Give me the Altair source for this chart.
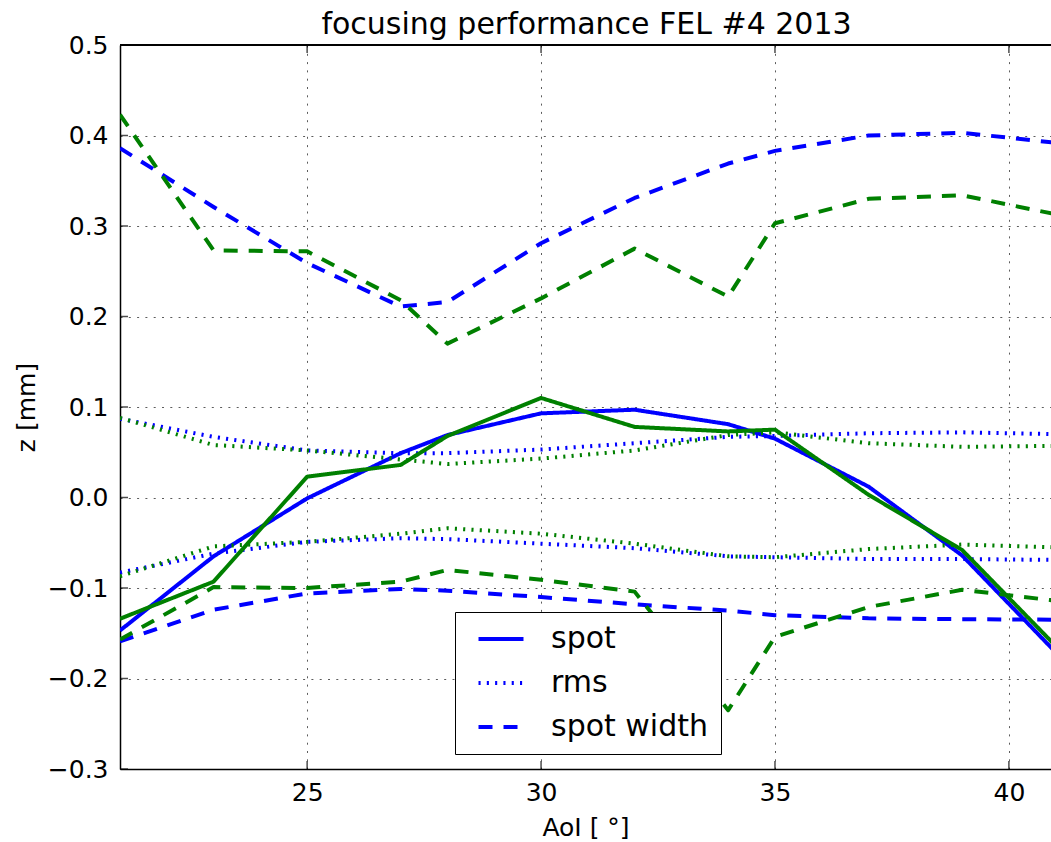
import altair as alt
import pandas as pd

# ---- data ----
aoi = [21, 23, 25, 27, 28, 30, 32, 34, 35, 37, 39, 41]

blue_spot = [-0.147, -0.065, -0.001, 0.049, 0.069, 0.093, 0.097, 0.081, 0.065, 0.012, -0.064, -0.171]
green_spot = [-0.134, -0.093, 0.023, 0.036, 0.068, 0.110, 0.078, 0.073, 0.075, 0.003, -0.058, -0.164]

blue_rms_upper = [0.087, 0.067, 0.052, 0.049, 0.049, 0.053, 0.060, 0.067, 0.068, 0.071, 0.072, 0.070]
green_rms_upper = [0.088, 0.058, 0.052, 0.042, 0.037, 0.043, 0.052, 0.069, 0.072, 0.060, 0.056, 0.057]
blue_rms_lower = [-0.083, -0.062, -0.049, -0.045, -0.046, -0.051, -0.056, -0.065, -0.066, -0.068, -0.068, -0.069]
green_rms_lower = [-0.087, -0.054, -0.049, -0.040, -0.034, -0.040, -0.051, -0.065, -0.066, -0.057, -0.052, -0.055]

blue_width_upper = [0.386, 0.321, 0.259, 0.211, 0.216, 0.281, 0.331, 0.369, 0.383, 0.400, 0.403, 0.392]
green_width_upper = [0.423, 0.273, 0.272, 0.218, 0.170, 0.220, 0.275, 0.222, 0.303, 0.330, 0.334, 0.313]
blue_width_lower = [-0.159, -0.124, -0.106, -0.101, -0.103, -0.110, -0.118, -0.125, -0.130, -0.1335, -0.1345, -0.135]
green_width_lower = [-0.157, -0.099, -0.100, -0.093, -0.080, -0.091, -0.104, -0.235, -0.154, -0.121, -0.102, -0.114]

x_ticks = [25, 30, 35, 40]
y_ticks = [-0.3, -0.2, -0.1, 0.0, 0.1, 0.2, 0.3, 0.4, 0.5]

styles = ["spot", "rms", "spot width"]
title_text = "focusing performance FEL #4 2013"

series = [
    ("blue", "spot", "b_spot", blue_spot),
    ("blue", "rms", "b_rms_u", blue_rms_upper),
    ("blue", "rms", "b_rms_l", blue_rms_lower),
    ("blue", "spot width", "b_w_u", blue_width_upper),
    ("blue", "spot width", "b_w_l", blue_width_lower),
    ("green", "spot", "g_spot", green_spot),
    ("green", "rms", "g_rms_u", green_rms_upper),
    ("green", "rms", "g_rms_l", green_rms_lower),
    ("green", "spot width", "g_w_u", green_width_upper),
    ("green", "spot width", "g_w_l", green_width_lower),
]

rows = []
order = 0
for col, sty, sid, vals in series:
    for a, v in zip(aoi, vals):
        rows.append({"aoi": a, "z": v, "color": col, "style": sty, "sid": sid, "ord": order})
        order += 1
df = pd.DataFrame(rows)

W, H = 931, 724
FONT = "DejaVu Sans"

xscale = alt.Scale(domain=[21, 40.9], nice=False, zero=False)
yscale = alt.Scale(domain=[-0.3, 0.5], nice=False, zero=False)

lines = alt.Chart(df).mark_line(strokeWidth=4, clip=True, strokeJoin="round").encode(
    x=alt.X("aoi:Q", scale=xscale,
            axis=alt.Axis(values=x_ticks, format="d", grid=True, ticks=False, tickSize=0,
                          labelBaseline="alphabetic", labelPadding=31,
                          title="AoI [ °]", titleX=465.5, titleY=66,
                          titleBaseline="alphabetic", titleAlign="center")),
    y=alt.Y("z:Q", scale=yscale,
            axis=alt.Axis(values=y_ticks, format=".1f", grid=True, ticks=False, tickSize=0,
                          labelPadding=12, title="z [mm]", titleX=-86, titleY=362,
                          titleAngle=270, titleBaseline="alphabetic", titleAlign="center")),
    color=alt.Color("color:N", scale=alt.Scale(domain=["blue", "green"], range=["#0000ff", "#008000"]),
                    legend=None),
    strokeDash=alt.StrokeDash(
        "style:N",
        scale=alt.Scale(domain=styles, range=[[1, 0], [2.1, 6.2], [14, 11]]),
        legend=alt.Legend(
            title=None, orient="none", legendX=335, legendY=567,
            padding=12, symbolOffset=19, labelOffset=35, rowPadding=14,
            labelFont=FONT, labelFontSize=30, labelColor="black", labelLimit=400,
            strokeColor="black", fillColor="white", cornerRadius=0,
            symbolType="M-2,0H2", symbolSize=506, symbolStrokeWidth=4,
            symbolStrokeColor="#0000ff", symbolFillColor="transparent",
        ),
    ),
    detail="sid:N",
    order="ord:Q",
)

tick_y_df = pd.DataFrame({"z": y_ticks})
tick_x_df = pd.DataFrame({"aoi": x_ticks})

left_ticks = alt.Chart(tick_y_df).mark_tick(color="black", thickness=1.5, size=8).encode(
    y=alt.Y("z:Q", scale=yscale), x=alt.value(4)
)
bottom_ticks = alt.Chart(tick_x_df).mark_tick(color="black", thickness=1.5, size=8).encode(
    x=alt.X("aoi:Q", scale=xscale), y=alt.value(H - 4)
)
top_ticks = alt.Chart(tick_x_df).mark_tick(color="black", thickness=1.5, size=8).encode(
    x=alt.X("aoi:Q", scale=xscale), y=alt.value(4)
)
top_spine = alt.Chart(tick_x_df).mark_rule(color="black", strokeWidth=1.5).encode(
    x=alt.value(0), x2=alt.value(W), y=alt.value(0)
)
title_mark = alt.Chart(pd.DataFrame({"t": [title_text]})).mark_text(
    font=FONT, fontSize=30, color="black", align="center", baseline="alphabetic"
).encode(text="t:N", x=alt.value(W / 2 + 1), y=alt.value(-11))

chart = alt.layer(lines, left_ticks, bottom_ticks, top_ticks, top_spine, title_mark).properties(
    width=W, height=H,
    autosize=alt.AutoSizeParams(type="none"),
    padding={"left": 120, "top": 45, "right": 0, "bottom": 73},
    background="white",
).configure_view(stroke=None).configure_axis(
    domainColor="black", domainWidth=1.5,
    labelFont=FONT, labelFontSize=25, labelColor="black",
    titleFont=FONT, titleFontSize=25, titleFontWeight="normal", titleColor="black",
    gridColor="#333333", gridWidth=1, gridDash=[2, 6.3], gridOpacity=0.8,
)

chart.save("out.html", embed_options={"renderer": "svg", "actions": False})
